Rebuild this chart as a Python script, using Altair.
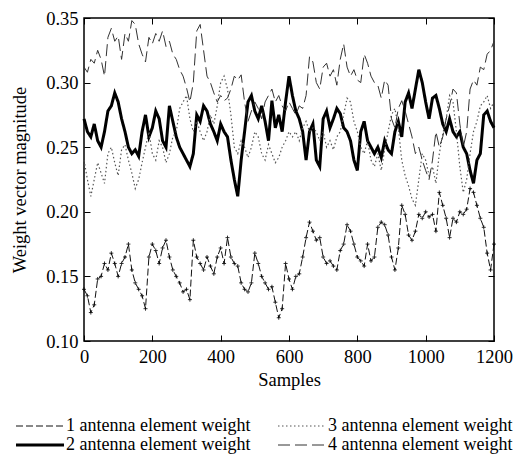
import altair as alt
import pandas as pd

SAMPLES = list(range(0, 1201, 10))

W1 = [0.140, 0.135, 0.122, 0.128, 0.148, 0.150, 0.160, 0.155, 0.168, 0.160,
      0.150, 0.160, 0.165, 0.175, 0.155, 0.145, 0.140, 0.135, 0.125, 0.165,
      0.175, 0.170, 0.160, 0.172, 0.178, 0.165, 0.155, 0.150, 0.145, 0.138,
      0.140, 0.132, 0.178, 0.165, 0.160, 0.155, 0.165, 0.158, 0.152, 0.165,
      0.172, 0.160, 0.180, 0.165, 0.160, 0.158, 0.145, 0.140, 0.138, 0.145,
      0.168, 0.160, 0.150, 0.145, 0.140, 0.142, 0.130, 0.118, 0.125, 0.160,
      0.148, 0.140, 0.150, 0.152, 0.165, 0.180, 0.192, 0.185, 0.178, 0.180,
      0.165, 0.160, 0.162, 0.158, 0.155, 0.170, 0.175, 0.190, 0.185, 0.175,
      0.165, 0.162, 0.158, 0.175, 0.162, 0.165, 0.188, 0.192, 0.190, 0.182,
      0.165, 0.155, 0.172, 0.205, 0.198, 0.182, 0.178, 0.185, 0.198, 0.195,
      0.200, 0.196, 0.198, 0.185, 0.215, 0.205, 0.195, 0.180, 0.195, 0.192,
      0.200, 0.198, 0.202, 0.218, 0.215, 0.205, 0.195, 0.188, 0.168, 0.155,
      0.175]

W2 = [0.272, 0.262, 0.258, 0.268, 0.255, 0.250, 0.262, 0.278, 0.282, 0.292,
      0.285, 0.272, 0.262, 0.250, 0.245, 0.248, 0.243, 0.262, 0.275, 0.258,
      0.265, 0.278, 0.272, 0.255, 0.250, 0.282, 0.270, 0.258, 0.250, 0.245,
      0.240, 0.235, 0.245, 0.275, 0.270, 0.282, 0.278, 0.268, 0.262, 0.255,
      0.268, 0.262, 0.258, 0.240, 0.225, 0.212, 0.240, 0.262, 0.285, 0.290,
      0.278, 0.272, 0.282, 0.270, 0.255, 0.286, 0.265, 0.275, 0.262, 0.285,
      0.305, 0.290, 0.278, 0.272, 0.262, 0.240, 0.262, 0.268, 0.240, 0.235,
      0.272, 0.278, 0.265, 0.272, 0.280, 0.276, 0.265, 0.262, 0.255, 0.240,
      0.232, 0.262, 0.270, 0.255, 0.250, 0.245, 0.250, 0.242, 0.255, 0.248,
      0.245, 0.262, 0.270, 0.258, 0.285, 0.292, 0.280, 0.295, 0.310, 0.300,
      0.285, 0.272, 0.288, 0.290, 0.280, 0.268, 0.262, 0.272, 0.262, 0.258,
      0.262, 0.250, 0.245, 0.232, 0.222, 0.240, 0.245, 0.275, 0.278, 0.270,
      0.265]

W3 = [0.240, 0.225, 0.212, 0.225, 0.238, 0.230, 0.222, 0.245, 0.250, 0.238,
      0.228, 0.248, 0.252, 0.240, 0.230, 0.218, 0.225, 0.238, 0.250, 0.262,
      0.245, 0.240, 0.255, 0.250, 0.238, 0.245, 0.258, 0.262, 0.280, 0.285,
      0.290, 0.272, 0.262, 0.270, 0.262, 0.255, 0.262, 0.275, 0.268, 0.282,
      0.300, 0.305, 0.295, 0.275, 0.250, 0.245, 0.255, 0.250, 0.242, 0.250,
      0.262, 0.258, 0.245, 0.240, 0.252, 0.245, 0.238, 0.242, 0.250, 0.255,
      0.262, 0.258, 0.262, 0.255, 0.265, 0.270, 0.262, 0.265, 0.262, 0.255,
      0.262, 0.250, 0.255, 0.248, 0.258, 0.262, 0.275, 0.288, 0.285, 0.270,
      0.262, 0.250, 0.245, 0.255, 0.240, 0.235, 0.245, 0.232, 0.248, 0.262,
      0.275, 0.280, 0.265, 0.240, 0.228, 0.220, 0.210, 0.205, 0.225, 0.245,
      0.240, 0.228, 0.235, 0.222, 0.245, 0.260, 0.272, 0.290, 0.285, 0.262,
      0.235, 0.215, 0.225, 0.245, 0.262, 0.270, 0.282, 0.285, 0.290, 0.280,
      0.285]

W4 = [0.312, 0.308, 0.318, 0.315, 0.325, 0.318, 0.305, 0.335, 0.342, 0.332,
      0.336, 0.318, 0.338, 0.332, 0.348, 0.345, 0.330, 0.322, 0.316, 0.335,
      0.330, 0.338, 0.332, 0.340, 0.328, 0.332, 0.322, 0.318, 0.310, 0.305,
      0.296, 0.285, 0.300, 0.340, 0.345, 0.325, 0.305, 0.300, 0.292, 0.285,
      0.290, 0.286, 0.288, 0.295, 0.305, 0.302, 0.306, 0.285, 0.270, 0.278,
      0.285, 0.280, 0.272, 0.285, 0.290, 0.295, 0.285, 0.290, 0.282, 0.278,
      0.285, 0.280, 0.275, 0.282, 0.280, 0.290, 0.320, 0.316, 0.300, 0.295,
      0.312, 0.315, 0.305, 0.310, 0.298, 0.318, 0.330, 0.312, 0.305, 0.310,
      0.302, 0.300, 0.322, 0.315, 0.305, 0.300, 0.298, 0.288, 0.302, 0.298,
      0.272, 0.265, 0.280, 0.286, 0.278, 0.268, 0.258, 0.245, 0.250, 0.240,
      0.232, 0.225, 0.240, 0.262, 0.250, 0.258, 0.272, 0.282, 0.295, 0.292,
      0.268, 0.250, 0.262, 0.295, 0.302, 0.298, 0.312, 0.310, 0.322, 0.325,
      0.332]

NAMES = ["1 antenna element weight", "2 antenna element weight",
         "3 antenna element weight", "4 antenna element weight"]
X_TICKS = [0, 200, 400, 600, 800, 1000, 1200]
Y_TICKS = [0.10, 0.15, 0.20, 0.25, 0.30, 0.35]

rows = []
for name, vals in zip(NAMES, [W1, W2, W3, W4]):
    for s, v in zip(SAMPLES, vals):
        rows.append({"sample": s, "value": v, "series": name})
df = pd.DataFrame(rows)

ORDER = NAMES
FONT = "Liberation Serif"

xscale = alt.Scale(domain=[0, 1200], nice=False, zero=False)
yscale = alt.Scale(domain=[0.10, 0.35], nice=False, zero=False)

legend = alt.Legend(
    title=None, orient="none", legendX=-71, legendY=399, columns=2,
    direction="vertical", columnPadding=24, rowPadding=1,
    symbolType="M-4,0H4", symbolSize=144, symbolOffset=18,
    labelFont=FONT, labelFontSize=18, labelOffset=17,
    labelColor="black", labelLimit=400, labelBaseline="middle",
    values=ORDER,
)

bottom_axis = alt.Axis(
    values=X_TICKS, title="Samples", format="d", orient="bottom", offset=-6,
    tickSize=6, tickColor="black", domain=False, grid=False,
    labelFont=FONT, labelFontSize=18.5, labelColor="black", labelPadding=6,
    titleFont=FONT, titleFontSize=18.5, titleFontWeight="normal",
    titleColor="black", titlePadding=5, labelFlush=False,
)
left_axis = alt.Axis(
    values=Y_TICKS, title="Weight vector magnitude", format=".2f",
    orient="left", offset=-6, tickSize=6, tickColor="black", domain=False,
    grid=False, labelFont=FONT, labelFontSize=18.5, labelColor="black",
    labelPadding=6, titleFont=FONT, titleFontSize=18.5,
    titleFontWeight="normal", titleColor="black", titlePadding=16,
    labelFlush=False,
)
top_axis = alt.Axis(values=X_TICKS, title=None, orient="top", offset=-6,
                    tickSize=6, tickColor="black", labels=False, domain=False,
                    grid=False)
right_axis = alt.Axis(values=Y_TICKS, title=None, orient="right", offset=-6,
                      tickSize=6, tickColor="black", labels=False,
                      domain=False, grid=False)

lines = alt.Chart(df).mark_line(interpolate="linear").encode(
    x=alt.X("sample:Q", scale=xscale, axis=bottom_axis),
    y=alt.Y("value:Q", scale=yscale, axis=left_axis),
    color=alt.Color("series:N", sort=ORDER, scale=alt.Scale(
        domain=ORDER, range=["#111111", "#000000", "#555555", "#333333"]),
        legend=legend),
    strokeDash=alt.StrokeDash("series:N", sort=ORDER, scale=alt.Scale(
        domain=ORDER, range=[[7, 3], [1, 0], [1.5, 2.5], [12, 5]]),
        legend=legend),
    strokeWidth=alt.StrokeWidth("series:N", sort=ORDER, scale=alt.Scale(
        type="ordinal", domain=ORDER, range=[1, 3, 1.2, 1]),
        legend=legend),
)

marks1 = alt.Chart(df[df["series"] == NAMES[0]]).mark_point(
    shape="M-1,0H1M0,-1V1", filled=False, size=16, strokeWidth=0.9,
    color="black", opacity=0.9,
).encode(
    x=alt.X("sample:Q", scale=xscale, axis=top_axis),
    y=alt.Y("value:Q", scale=yscale, axis=right_axis),
)

chart = alt.layer(lines, marks1).properties(
    width=410, height=323,
    padding={"left": 84, "top": 18, "right": 35, "bottom": 114},
    autosize=alt.AutoSizeParams(type="none"),
    background="white",
).configure_view(stroke="black", strokeWidth=1.5)

chart.save("out.html", embed_options={"renderer": "svg", "actions": False})
